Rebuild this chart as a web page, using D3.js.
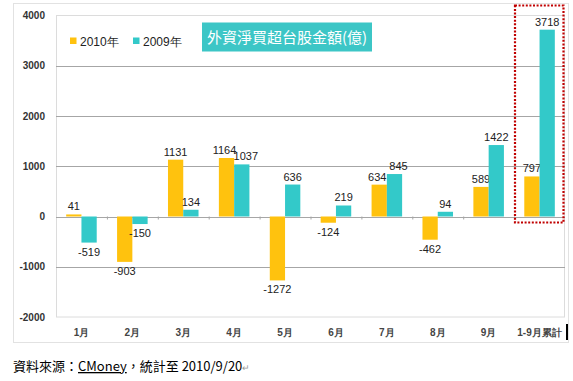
<!DOCTYPE html>
<meta charset="utf-8">
<style>
body { margin: 0; background: #fff; }
svg { font-family: "Liberation Sans", Arial, sans-serif; }
.vals { font-size: 11px; fill: #222; }
.ytick { font-size: 10px; font-weight: bold; fill: #333; }
.xtick { font-size: 10px; font-weight: bold; fill: #444; }
.legend { font-size: 12px; fill: #222; }
</style>
<body>
<svg width="573" height="381"></svg>
</body>
<script src="https://cdn.jsdelivr.net/npm/d3@7"></script>
<script>

var months = ["1月", "2月", "3月", "4月", "5月", "6月", "7月", "8月", "9月", "1-9月累計"];
var y2010 = [41, -903, 1131, 1164, -1272, -124, 634, -462, 589, 797];
var y2009 = [-519, -150, 134, 1037, 636, 219, 845, 94, 1422, 3718];
var yTicks = [-2000, -1000, 0, 1000, 2000, 3000, 4000];
var series = ["2010年", "2009年"];
var colors = ["#FFC20E", "#33C9C9"];

var svg = d3.select("svg");

var x = d3.scaleBand()
    .domain(months)
    .range([56, 565]);

var sub = d3.scaleBand()
    .domain([0, 1])
    .range([x.bandwidth() * 0.2, x.bandwidth() * 0.8]);

var y = d3.scaleLinear()
    .domain([-2000, 4000])
    .range([317, 15.5]);

// outer chart frame
svg.append("rect")
    .attr("x", 13.5).attr("y", 3.5)
    .attr("width", 555).attr("height", 339)
    .attr("fill", "none")
    .attr("stroke", "#e2e2e2");

// plot area border
svg.append("rect")
    .attr("x", 56.5).attr("y", y(4000))
    .attr("width", 508).attr("height", y(-2000) - y(4000))
    .attr("fill", "none")
    .attr("stroke", "#dcdcdc");

// gridlines
svg.selectAll(".grid")
  .data(yTicks.filter(function(d) { return d != 4000 && d != -2000; }))
  .enter().append("line")
    .attr("x1", 56).attr("x2", 565)
    .attr("y1", function(d) { return Math.round(y(d)) + 0.5; })
    .attr("y2", function(d) { return Math.round(y(d)) + 0.5; })
    .attr("stroke", "#a6a6a6");

svg.selectAll(".ytick")
  .data(yTicks)
  .enter().append("text")
    .attr("class", "ytick")
    .attr("x", 45)
    .attr("y", function(d) { return y(d) + 3.5; })
    .attr("text-anchor", "end")
    .text(function(d) { return d; });

// small ticks on the zero line
svg.selectAll(".ztick")
  .data(months.slice(1))
  .enter().append("line")
    .attr("x1", function(d) { return x(d) + 0.5; })
    .attr("x2", function(d) { return x(d) + 0.5; })
    .attr("y1", y(0)).attr("y2", y(0) + 3)
    .attr("stroke", "#a6a6a6");

var data = [y2010, y2009];

data.forEach(function(vals, s) {
  svg.selectAll(".bar" + s)
    .data(vals)
    .enter().append("rect")
      .attr("x", function(d, i) { return x(months[i]) + sub(s); })
      .attr("width", sub.bandwidth())
      .attr("y", function(d) { return y(Math.max(d, 0)); })
      .attr("height", function(d) { return Math.abs(y(d) - y(0)); })
      .attr("fill", colors[s]);

  svg.selectAll(".val" + s)
    .data(vals)
    .enter().append("text")
      .attr("class", "vals")
      .attr("text-anchor", "middle")
      .attr("x", function(d, i) {
        // push a label aside when both bars of a month are tall and close in height
        var other = data[1 - s][i];
        var clash = d > 0 && other > 0 && Math.abs(d - other) < 300;
        var nudge = clash ? (s == 0 ? -2 : 4) : 0;
        return x(months[i]) + sub(s) + sub.bandwidth() / 2 + nudge;
      })
      .attr("y", function(d) { return d >= 0 ? y(d) - 4 : y(d) + 13; })
      .text(function(d) { return d; });
});

svg.selectAll(".xtick")
  .data(months)
  .enter().append("text")
    .attr("class", "xtick")
    .attr("text-anchor", "middle")
    .attr("x", function(d) { return x(d) + x.bandwidth() / 2; })
    .attr("y", 336)
    .text(function(d) { return d; });

// legend
var lg = svg.append("g").attr("class", "legend");
series.forEach(function(name, s) {
  lg.append("rect")
    .attr("x", 70 + s * 63).attr("y", 37.5)
    .attr("width", 6.5).attr("height", 6.5)
    .attr("fill", colors[s]);
  lg.append("text")
    .attr("x", 80 + s * 63).attr("y", 46)
    .text(name);
});

// title box
svg.append("rect")
    .attr("x", 202).attr("y", 22.5)
    .attr("width", 170).attr("height", 29)
    .attr("fill", "#3CC6C6");
svg.append("text")
    .attr("x", 287).attr("y", 42.5)
    .attr("text-anchor", "middle")
    .attr("fill", "#fff")
    .style("font-family", "'Noto Sans CJK TC', sans-serif")
    .style("font-size", "15px")
    .text("外資淨買超台股金額(億)");

// highlight box round the totals
svg.append("rect")
    .attr("x", 515).attr("y", 5.5)
    .attr("width", 48.5).attr("height", 217)
    .attr("fill", "none")
    .attr("stroke", "#C00000")
    .attr("stroke-width", 2.2)
    .attr("stroke-dasharray", "2,1.6");

// cursor mark
svg.append("rect")
    .attr("x", 566).attr("y", 324)
    .attr("width", 2).attr("height", 16)
    .attr("fill", "#000");

// source note
var note = svg.append("text")
    .attr("x", 13).attr("y", 371)
    .style("font-family", "'Noto Sans CJK TC', sans-serif")
    .style("font-size", "13px")
    .attr("fill", "#000");
note.append("tspan").text("資料來源：");
note.append("tspan").attr("text-decoration", "underline").text("CMoney");
note.append("tspan").text("，統計至 2010/9/20");
note.append("tspan").attr("fill", "#999").style("font-size", "9px").text("↵");

</script>
